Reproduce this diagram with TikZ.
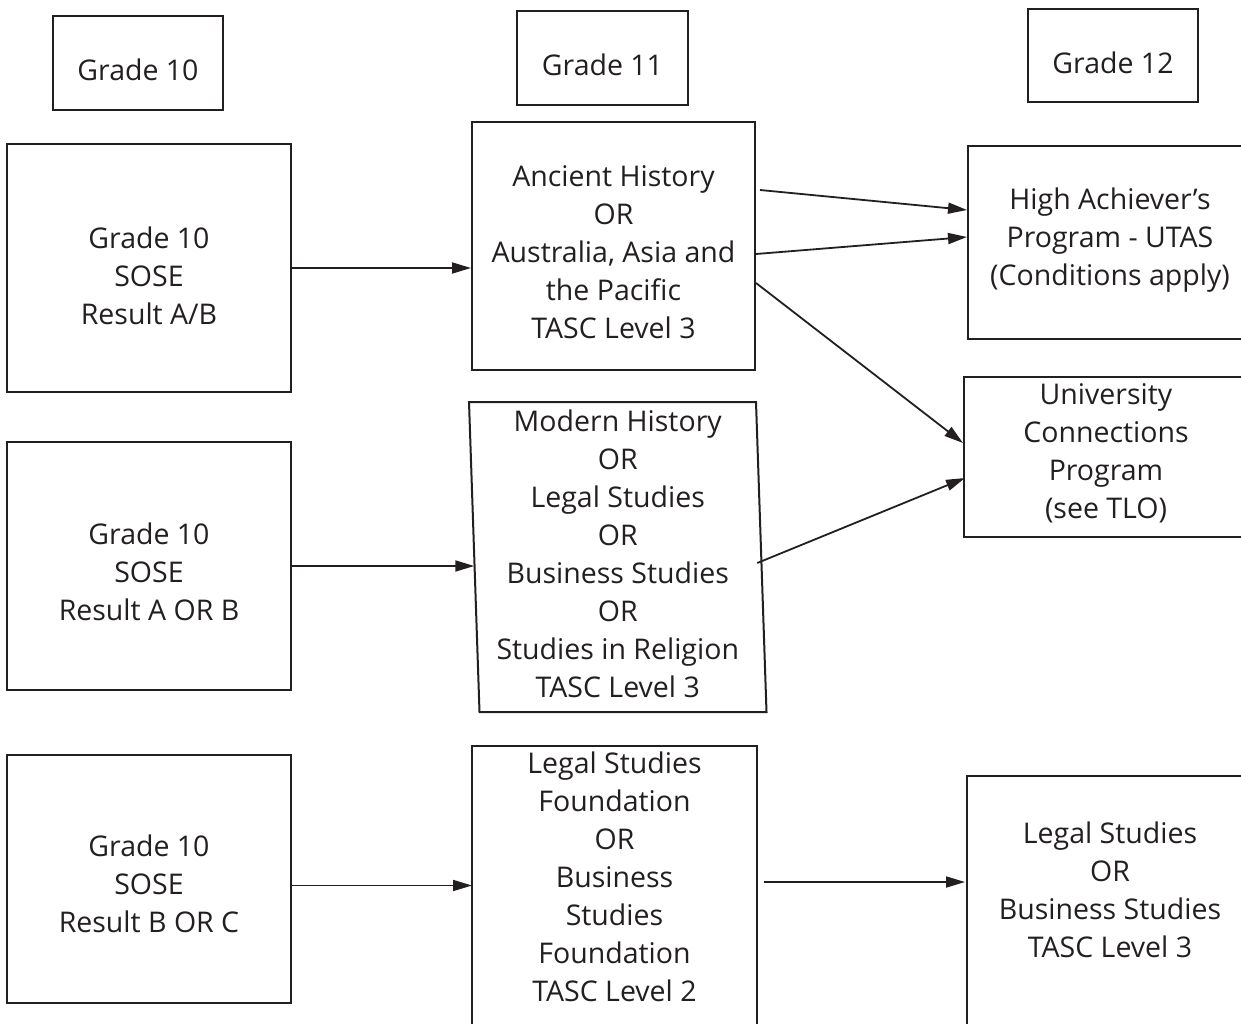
\documentclass[tikz,border=0pt]{standalone}
\usepackage{fontspec}
\setmainfont{Open Sans}
\usetikzlibrary{arrows.meta,positioning,calc}
\definecolor{ink}{RGB}{35,31,32}

\begin{document}
\begin{tikzpicture}[
    x=1pt,y=-1pt,>={Triangle[length=19pt,width=11pt]},
    box/.style={rectangle,draw=ink,line width=2pt,inner sep=0pt,align=center,
      font=\fontsize{28.5}{38}\selectfont,text=ink},
    flow/.style={->,draw=ink,line width=1.8pt}]
    \clip (0,0) rectangle (1241,1024);
    % grade headings
    \node[box,text height=35.5pt,minimum width=170,minimum height=94] (G10) at (138,63) {Grade 10};
    \node[box,text height=35.5pt,minimum width=171,minimum height=94] (G11) at (602.5,58) {Grade 11};
    \node[box,text height=35.5pt,minimum width=170,minimum height=93] (G12) at (1113,55.5) {Grade 12};

    % grade 10 column
    \node[box,text height=113.5pt,minimum width=284,minimum height=248] (S1) at (149,268) {Grade 10\\SOSE\\Result A/B};
    \node[box,text height=109.5pt,minimum width=284,minimum height=248] (S2) [below=48pt of S1] {Grade 10\\SOSE\\Result A OR B};
    \node[box,text height=107.5pt,minimum width=284,minimum height=248] (S3) [below=63pt of S2] {Grade 10\\SOSE\\Result B OR C};

    % grade 11 column
    \node[box,text height=185.5pt,minimum width=283,minimum height=248] (A11) at (613.5,246) {Ancient History\\OR\\Australia, Asia and\\the Pacific\\TASC Level 3};
    \node[box,draw=none,text depth=6pt,minimum width=285,minimum height=308] (M11) at (617.75,557) {Modern History\\OR\\Legal Studies\\OR\\Business Studies\\OR\\Studies in Religion\\TASC Level 3};
    \draw[ink,line width=2pt] ([xshift=-5.25pt]M11.north west) -- ([xshift=-5.25pt]M11.north east)
      -- ([xshift=5.25pt]M11.south east) -- ([xshift=5.25pt]M11.south west) -- cycle;
    % box runs off the page
    \node[box,draw=none,minimum width=283,minimum height=260] (F11) at (614.5,877) {Legal Studies\\Foundation\\OR\\Business\\Studies\\Foundation\\TASC Level 2};
    \draw[ink,line width=2pt] ($(F11.south west)+(0,60)$) -- (F11.north west) -- (F11.north east) -- ($(F11.south east)+(0,60)$);

    % grade 12 column
    \node[box,text depth=11pt,minimum width=284,minimum height=193] (H12) at (1110,242.5) {High Achiever’s\\Program - UTAS\\(Conditions apply)};
    \node[box,text depth=11pt,minimum width=284,minimum height=160] (U12) at (1106,457) {University\\Connections\\Program\\(see TLO)};
    \node[box,draw=none,minimum width=284,minimum height=226] (L12) at (1110,890) {Legal Studies\\OR\\Business Studies\\TASC Level 3};
    \draw[ink,line width=2pt] ($(L12.south west)+(0,60)$) -- (L12.north west) -- (L12.north east) -- ($(L12.south east)+(0,60)$);

    \draw[flow] (S1.east) -- (S1.east -| A11.west);
    \draw[flow] (S2.east) -- (S2.east -| M11.west);
    \draw[flow] ($(S3.east)+(0,6.5)$) -- ($(S3.east -| F11.west)+(0,6.5)$);
    \draw[flow] ($(A11.east)+(4,-56)$) -- ($(H12.west)+(0,-32.5)$);
    \draw[flow] ($(A11.east)+(0,8)$) -- ($(H12.west)+(0,-5.5)$);
    \draw[flow] ($(A11.east)+(0,37)$) -- ($(U12.west)+(0,-14)$);
    \draw[flow] ($(M11.east)+(-4,6)$) -- ($(U12.west)+(2,21)$);
    \draw[flow] ($(F11.east)+(7,5)$) -- ($(L12.west)+(-2,-8)$);
\end{tikzpicture}
\end{document}
